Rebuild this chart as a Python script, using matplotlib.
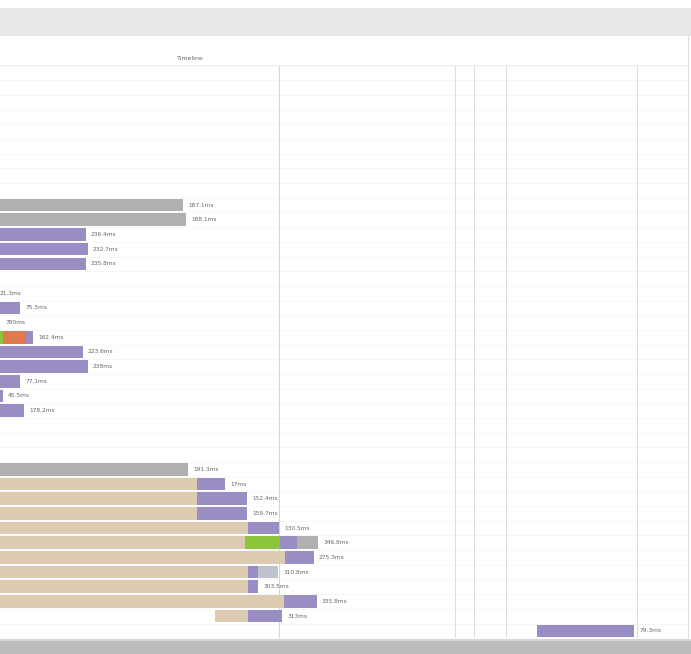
import matplotlib
matplotlib.use("Agg")
import matplotlib.pyplot as plt
from matplotlib.patches import Rectangle
import numpy as np

# request timing segments, in ms (timeline origin at left edge of view)
gray_rows = [9, 10, 27, 32]
gray_start = [-800, -800, -800, 2970]
gray_end = [1830, 1860, 1880, 3180]

blue_rows = [34]
blue_start = [2580]
blue_end = [2780]

tan_rows = [28, 29, 30, 31, 32, 33, 34, 35, 36, 37]
tan_start = [-800, -800, -800, -800, -800, -800, -800, -800, -800, 2150]
tan_end = [1970, 1970, 1970, 2480, 2450, 2850, 2480, 2480, 2840, 2480]

green_rows = [18, 32]
green_start = [-800, 2450]
green_end = [30, 2800]

orange_rows = [18]
orange_start = [30]
orange_end = [260]

purple_rows = [11, 12, 13, 15, 16, 17, 18, 19, 20, 21, 22, 23,
               28, 29, 30, 31, 32, 33, 34, 35, 36, 37, 38]
purple_start = [-800, -800, -800, -800, -800, -800, 260, -800, -800, -800, -800, -800,
                1970, 1970, 1970, 2480, 2800, 2850, 2480, 2480, 2840, 2480, 5370]
purple_end = [860, 880, 860, -50, 200, 0, 330, 830, 880, 200, 30, 240,
              2250, 2470, 2470, 2790, 2970, 3140, 2580, 2580, 3170, 2820, 6340]

label_rows = [9, 10, 11, 12, 13, 15, 16, 17, 18, 19, 20, 21, 22, 23,
              27, 28, 29, 30, 31, 32, 33, 34, 35, 36, 37, 38]
label_text = ["187.1ms", "188.1ms", "236.4ms", "232.7ms", "235.8ms", "21.3ms",
              "75.5ms", "780ms", "162.4ms", "223.6ms", "238ms", "77.1ms",
              "45.5ms", "178.2ms", "191.3ms", "17ms", "152.4ms", "159.7ms",
              "130.5ms", "346.8ms", "275.3ms", "310.8ms", "303.5ms", "335.8ms",
              "313ms", "79.3ms"]

grid_ms = [2790, 4550, 4740, 5060, 6370]
n_rows = 39

W, H = 691, 654
fig = plt.figure(figsize=(W / 100, H / 100), dpi=100)
fig.patch.set_facecolor("white")

# top toolbar band and bottom scrollbar
fig.add_artist(Rectangle((0, 1 - 36 / H), 1, 28 / H, transform=fig.transFigure,
                         facecolor="#e8e8e8", edgecolor="none"))
fig.add_artist(Rectangle((0, 0), 1, 14 / H, transform=fig.transFigure,
                         facecolor="#bcbcbc", edgecolor="none"))
fig.add_artist(Rectangle((0, 13 / H), 1, 2 / H, transform=fig.transFigure,
                         facecolor="#d6d6d6", edgecolor="none"))
fig.text(190 / W, 1 - 58 / H, "Timeline", fontsize=4.5, color="#666666",
         ha="center", va="center")
fig.add_artist(Rectangle((688 / W, 14 / H), 1 / W, (640 - 36) / H,
                         transform=fig.transFigure, facecolor="#dedede", edgecolor="none"))
fig.add_artist(Rectangle((0, 1 - 66 / H), 688 / W, 1 / H, transform=fig.transFigure,
                         facecolor="#f0f0f0", edgecolor="none"))

top_px = 73 - 14.68 / 2
bot_px = 73 + 14.68 * (n_rows - 0.5)
ax = fig.add_axes([0, 1 - bot_px / H, 688 / W, (bot_px - top_px) / H])
ax.set_xlim(0, 6880)
ax.set_ylim(n_rows - 0.5, -0.5)
ax.axis("off")

for k in range(n_rows + 1):
    ax.axhline(k - 0.5, color="#f6f6f6", lw=0.6, zorder=0)
for i, g in enumerate(grid_ms):
    ax.axvline(g, color="#cdd6ea" if i == 0 else "#dcdee4", lw=0.8, zorder=0.5)

bh = 0.86
def draw(rows, start, end, color):
    ax.barh(rows, np.array(end) - np.array(start), left=start, height=bh,
            color=color, edgecolor="none", zorder=2)

draw(tan_rows, tan_start, tan_end, "#dccbb0")
draw(gray_rows, gray_start, gray_end, "#b0b0b0")
draw(blue_rows, blue_start, blue_end, "#bcc3cf")
draw(green_rows, green_start, green_end, "#8cc43c")
draw(orange_rows, orange_start, orange_end, "#e07a4e")
draw(purple_rows, purple_start, purple_end, "#9a8dc3")

# label after the last segment in each row
ends = {}
for rows, end in [(gray_rows, gray_end), (blue_rows, blue_end), (tan_rows, tan_end),
                  (green_rows, green_end), (orange_rows, orange_end),
                  (purple_rows, purple_end)]:
    for r, e in zip(rows, end):
        ends[r] = max(ends.get(r, -1e9), e)
for r, t in zip(label_rows, label_text):
    ax.text(ends[r] + 50, r, t, fontsize=4.2, color="#666666", va="center",
            ha="left", zorder=3)

fig.savefig("out.png", dpi=100)
